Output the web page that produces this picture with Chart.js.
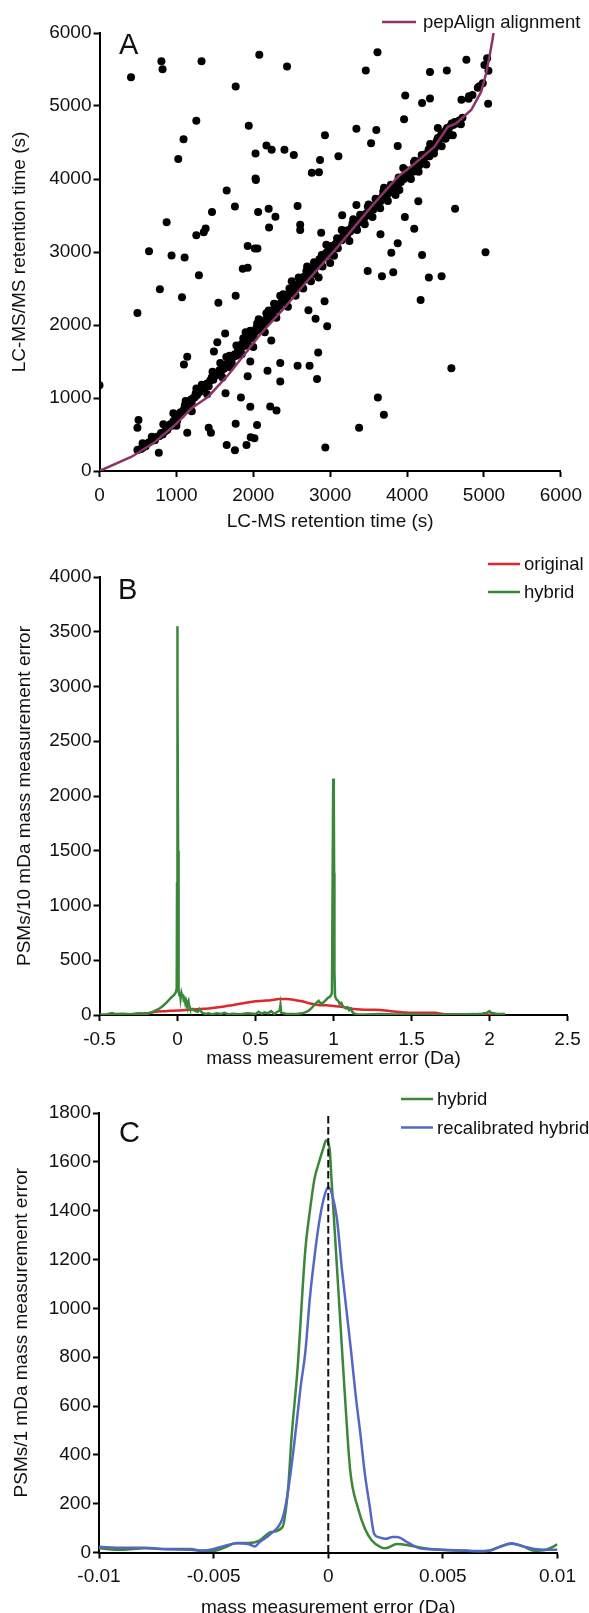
<!DOCTYPE html>
<html>
<head>
<meta charset="utf-8">
<script src="https://cdn.jsdelivr.net/npm/chart.js@4.4.1/dist/chart.umd.min.js"></script>
<style>
  html, body { margin: 0; padding: 0; background: #fff; overflow: hidden; }
  body { width: 589px; height: 1613px; position: relative; }
  canvas { position: absolute; left: 0; }
  #chartA { top: 0; }
  #chartB { top: 538px; }
  #chartC { top: 1076px; }
</style>
</head>
<body>
<canvas id="chartA" width="589" height="538"></canvas>
<canvas id="chartB" width="589" height="538"></canvas>
<canvas id="chartC" width="589" height="550"></canvas>
<script>
// ---- Panel A: retention time scatter + pepAlign alignment ----
const outlierX = [410, 805, 820, 1327, 2078, 2439, 1771, 1259, 1941, 1093, 1024, 2029, 2171, 2239, 2405, 2527, 2029, 2034, 1654, 1761,
  1463, 2063, 2200, 2288, 2205, 873, 1380, 1356, 1259, 644, 937, 1107, 1927, 2020, 2054, 1863, 1927, 1293, 785, 1073,
  1771, 1546, 493, 2576, 2610, 2610, 2761, 2854, 2868, 2932, 3107, 3341, 3463, 3615, 3532, 3600, 3961, 3976, 4195, 4298,
  4298, 4517, 4771, 4707, 4805, 5054, 3878, 3341, 3156, 2883, 3654, 3795, 3878, 3971, 4093, 4146, 4195, 4624, 5020, 3488,
  3673, 3820, 4283, 4449, 4176, 4576, 3620, 3698, 3376, 2937, 2961, 2927, 2810, 2717, 2844, 2732, 2829, 2576, 2351, 2351,
  2185, 2234, 2302, 2220, 1961, 1927, 1839, 1961, 1639, 1771, 2049, 1966, 2015, 1912, 1654, 1761, 1420, 1449, 1141, 1098,
  1141, 1488, 1634, 1532, 507, 493, 771, 0, 493, 561];
const outlierY = [5395, 5613, 5504, 5613, 5703, 5542, 5267, 4799, 4728, 4543, 4273, 4349, 4458, 4401, 4401, 4330, 4008, 3985, 3843, 3625,
  3549, 3549, 3592, 3483, 3337, 3407, 3322, 3270, 3228, 3010, 2953, 2925, 3081, 3048, 3048, 2769, 2783, 2683, 2489, 2380,
  2399, 2305, 2163, 3630, 3374, 3303, 4084, 4094, 4259, 4600, 4311, 4690, 5485, 5736, 4491, 4671, 4818, 5144, 5040, 5102,
  5466, 5485, 5632, 5087, 5135, 5031, 4453, 3644, 3502, 3265, 3242, 2991, 3119, 3478, 3318, 3696, 2958, 3592, 2996, 2740,
  2669, 2721, 2650, 2669, 2343, 1406, 1008, 771, 592, 322, 1983, 2324, 2087, 2201, 1623, 1443, 1259, 1443, 1481, 1226,
  1372, 1789, 828, 885, 1500, 1297, 1008, 880, 1065, 648, 629, 464, 450, 355, 355, 284, 592, 525, 525, 1458,
  1566, 1637, 1884, 1765, 700, 592, 251, 1174, 289, 317];

const bandX = [500, 540, 600, 640, 660, 700, 720, 750, 780, 800, 820, 850, 870, 880, 900, 920, 940, 960, 980, 1000,
  1010, 1030, 1050, 1060, 1080, 1100, 1110, 1130, 1150, 1170, 1190, 1200, 1220, 1240, 1250, 1270, 1290, 1300, 1320, 1340,
  1360, 1380, 1400, 1420, 1440, 1460, 1480, 1500, 1520, 1540, 1560, 1580, 1600, 1620, 1640, 1660, 1680, 1700, 1720, 1740,
  1760, 1780, 1800, 1810, 1830, 1850, 1860, 1880, 1900, 1910, 1930, 1950, 1970, 1990, 2000, 2020, 2040, 2060, 2080, 2100,
  2120, 2140, 2160, 2180, 2200, 2220, 2240, 2260, 2280, 2300, 2320, 2340, 2360, 2380, 2400, 2420, 2440, 2460, 2480, 2500,
  2520, 2540, 2560, 2580, 2600, 2620, 2640, 2660, 2680, 2700, 2720, 2740, 2760, 2780, 2800, 2820, 2840, 2860, 2880, 2900,
  2920, 2940, 2960, 2980, 3000, 3020, 3040, 3060, 3080, 3100, 3130, 3150, 3170, 3200, 3220, 3240, 3260, 3280, 3300, 3320,
  3340, 3360, 3380, 3400, 3420, 3440, 3460, 3480, 3500, 3520, 3540, 3560, 3580, 3600, 3620, 3640, 3660, 3680, 3700, 3720,
  3740, 3760, 3780, 3800, 3820, 3840, 3860, 3880, 3900, 3920, 3940, 3960, 3980, 4000, 4020, 4050, 4080, 4100, 4120, 4140,
  4160, 4180, 4200, 4220, 4240, 4260, 4280, 4300, 4320, 4340, 4360, 4380, 4400, 4420, 4440, 4460, 4480, 4500, 4520, 4540,
  4560, 4580, 4600, 4620, 4640, 4680, 4720,
  1000, 1200, 1400, 1600, 1650, 1700, 1850, 1900, 2000, 2050, 2150, 2200, 2300, 2350, 2450, 2500, 2550, 2650, 2700, 2750,
  2800, 2850, 2900, 2950, 3000, 3050, 3100, 3150, 3250, 3300, 3350, 3450, 3500, 3550, 3650, 3700, 3750, 3850, 3900, 3950,
  4050, 4100, 4150, 4250, 4300, 4350, 4450, 4500, 4550, 4400, 4700, 4595, 4292, 4162,
  4920, 4940, 4984, 5006, 5041, 5058, 4800, 4850,
  560, 680, 830, 960, 1120, 1260, 1330, 1470, 1570, 1690, 1780, 1870, 1960, 2070, 2170, 2270, 2390, 2470, 2590, 2690,
  2790, 2890, 2990, 3090, 3190, 3290, 3390, 3490, 3590, 3690, 3790, 3890, 3990, 4090, 4190, 4290, 4390, 4490];
const bandY = [290, 300, 340, 390, 400, 430, 420, 470, 480, 520, 500, 540, 580, 560, 600, 640, 620, 680, 700, 720,
  690, 760, 800, 770, 820, 850, 900, 880, 940, 920, 980, 950, 1000, 1010, 1060, 1040, 1100, 1080, 1120, 1150,
  1130, 1180, 1200, 1160, 1240, 1280, 1250, 1300, 1340, 1320, 1380, 1360, 1420, 1400, 1460, 1440, 1500, 1520, 1480, 1560,
  1600, 1580, 1640, 1700, 1660, 1740, 1700, 1760, 1720, 1800, 1780, 1840, 1820, 1880, 1850, 1900, 1960, 1930, 1980, 2000,
  1960, 2060, 2040, 2100, 2080, 2150, 2120, 2200, 2240, 2210, 2280, 2260, 2300, 2340, 2320, 2380, 2360, 2420, 2460, 2440,
  2500, 2480, 2540, 2520, 2580, 2560, 2620, 2660, 2640, 2700, 2680, 2740, 2720, 2780, 2820, 2800, 2860, 2900, 2880, 2940,
  2920, 2980, 3000, 2960, 3040, 3080, 3060, 3100, 3120, 3150, 3180, 3160, 3220, 3250, 3230, 3300, 3280, 3340, 3320, 3380,
  3360, 3420, 3440, 3410, 3480, 3460, 3520, 3500, 3560, 3540, 3600, 3580, 3640, 3620, 3680, 3720, 3700, 3760, 3740, 3800,
  3780, 3840, 3820, 3880, 3860, 3900, 3940, 3920, 3980, 3960, 4020, 4000, 4060, 4080, 4040, 4120, 4100, 4160, 4200, 4180,
  4240, 4220, 4300, 4280, 4340, 4320, 4400, 4380, 4440, 4460, 4420, 4500, 4560, 4540, 4600, 4620, 4580, 4660, 4700, 4680,
  4720, 4760, 4740, 4780, 4760, 4800, 4840,
  620, 820, 1050, 1280, 1560, 1420, 1600, 1900, 1700, 2020, 1900, 2200, 2100, 2400, 2250, 2600, 2400, 2500, 2800, 2600,
  2700, 2650, 2800, 3100, 2850, 2950, 3050, 3300, 3150, 3450, 3300, 3380, 3650, 3480, 3600, 3880, 3700, 3780, 3850, 4150,
  4000, 4250, 4100, 4200, 4480, 4350, 4450, 4550, 4600, 4700, 4750, 4600, 4310, 4190,
  5250, 5270, 5311, 5562, 5653, 5484, 5100, 5150,
  380, 470, 640, 790, 960, 1130, 1180, 1360, 1480, 1580, 1720, 1820, 1920, 2080, 2160, 2290, 2420, 2500, 2650, 2740,
  2860, 2960, 3080, 3190, 3290, 3390, 3510, 3620, 3730, 3830, 3920, 4020, 4120, 4230, 4330, 4410, 4530, 4640];

const alignX = [0, 418, 699, 981, 1197, 1413, 1673, 1932, 2084, 2400, 2712, 3101, 3535, 3881, 4097, 4357, 4530, 4639, 4834, 4964, 5029, 5071, 5114, 5125];
const alignY = [0, 196, 379, 630, 859, 1018, 1315, 1658, 1863, 2230, 2616, 3073, 3621, 4032, 4210, 4442, 4716, 4763, 4945, 5196, 5448, 5675, 5927, 6000];

const ticksA = [0, 1000, 2000, 3000, 4000, 5000, 6000];
const tickLabelsA = ['0', '1000', '2000', '3000', '4000', '5000', '6000'];

// ---- Panel B: mass error histogram, 10 mDa bins ----
const hybridBX = [-0.50, -0.45, -0.42, -0.40, -0.35, -0.30, -0.25, -0.20, -0.17, -0.15, -0.12, -0.10, -0.08, -0.06, -0.04, -0.02, -0.01, -0.005,
  -0.003, -0.002, -0.001, 0.000, 0.002, 0.004, 0.006, 0.008, 0.012, 0.016, 0.020, 0.025, 0.030, 0.035, 0.040, 0.045, 0.050, 0.055,
  0.060, 0.070, 0.075, 0.080, 0.090, 0.100, 0.110, 0.130, 0.140, 0.150, 0.160, 0.180, 0.200, 0.220, 0.250, 0.280, 0.300, 0.330,
  0.350, 0.400, 0.450, 0.500, 0.520, 0.540, 0.560, 0.580, 0.600, 0.620, 0.640, 0.655, 0.660, 0.665, 0.700, 0.750, 0.800, 0.830,
  0.850, 0.870, 0.890, 0.905, 0.920, 0.940, 0.960, 0.980, 0.990, 0.995, 0.998, 1.002, 1.004, 1.006, 1.010, 1.020, 1.030, 1.040,
  1.050, 1.060, 1.080, 1.090, 1.100, 1.110, 1.120, 1.130, 1.150, 1.200, 1.300, 1.400, 1.500, 1.600, 1.700, 1.800, 1.900, 1.950,
  1.980, 2.000, 2.010, 2.050, 2.100];
const hybridBY = [5, 8, 18, 10, 12, 8, 15, 10, 20, 35, 55, 75, 100, 130, 160, 185, 210, 250,
  1200, 2400, 3000, 3550, 3000, 1500, 600, 220, 180, 210, 150, 200, 170, 190, 140, 150, 110, 130,
  100, 130, 80, 60, 50, 55, 40, 30, 55, 35, 20, 10, 15, 5, 15, 10, 20, 5,
  12, 8, 15, 10, 30, 12, 25, 15, 35, 10, 30, 40, 90, 20, 10, 8, 15, 30,
  50, 80, 110, 130, 100, 120, 150, 170, 200, 1400, 2160, 2000, 1300, 400, 170, 140, 130, 100,
  110, 80, 60, 70, 45, 60, 30, 15, 8, 5, 8, 5, 6, 4, 5, 4, 8, 12,
  18, 35, 20, 10, 8];

const originalBX = [-0.45, -0.40, -0.30, -0.20, -0.15, -0.10, -0.05, 0.00, 0.05, 0.10, 0.15, 0.20, 0.25, 0.30, 0.35, 0.40, 0.45, 0.50,
  0.55, 0.60, 0.65, 0.70, 0.75, 0.80, 0.85, 0.90, 0.95, 1.00, 1.05, 1.10, 1.15, 1.20, 1.25, 1.30, 1.35, 1.40, 1.45, 1.50,
  1.55, 1.60, 1.65, 1.70, 1.75, 1.80, 1.90, 2.00, 2.10];
const originalBY = [0, 2, 5, 15, 28, 35, 38, 40, 45, 50, 55, 60, 68, 78, 90, 102, 115, 125,
  130, 135, 145, 145, 138, 125, 105, 92, 88, 82, 75, 62, 52, 48, 47, 46, 38, 30, 24, 20,
  20, 20, 20, 10, 6, 5, 4, 3, 2];

const ticksBX = [-0.5, 0, 0.5, 1, 1.5, 2, 2.5];
const tickLabelsBX = ['-0.5', '0', '0.5', '1', '1.5', '2', '2.5'];
const ticksBY = [0, 500, 1000, 1500, 2000, 2500, 3000, 3500, 4000];
const tickLabelsBY = ['0', '500', '1000', '1500', '2000', '2500', '3000', '3500', '4000'];

// ---- Panel C: mass error histogram, 1 mDa bins ----
const hybridCX = [-0.0100, -0.0090, -0.0080, -0.0070, -0.0060, -0.0055, -0.0050, -0.0045, -0.0040, -0.0035, -0.0030, -0.0025,
  -0.0020, -0.00175, -0.0016, -0.00134, -0.0010, -0.0008, -0.0006, -0.00044, -0.0002, -0.0001, 0.00005, 0.00015, 0.00047,
  0.0007, 0.00096, 0.0013, 0.0016, 0.0019, 0.0023, 0.0025, 0.0030, 0.0036, 0.0042, 0.0050, 0.0060, 0.0065, 0.0070, 0.0075,
  0.0080, 0.0085, 0.0090, 0.0095, 0.0100];
const hybridCY = [17, 11, 17, 14, 14, 7, 7, 21, 39, 39, 49, 84,
  104, 264, 473, 752, 1239, 1400, 1531, 1587, 1660, 1687, 1660, 1517, 1030,
  682, 334, 181, 97, 49, 21, 17, 35, 28, 17, 10, 7, 3, 7, 24,
  36, 25, 7, 11, 33];

const recalCX = [-0.0100, -0.0090, -0.0080, -0.0070, -0.0060, -0.0055, -0.0050, -0.0045, -0.0040, -0.0035, -0.0032, -0.0030,
  -0.0025, -0.0020, -0.0018, -0.0015, -0.0012, -0.0010, -0.0008, -0.0006, -0.0004, -0.0002, 0.0000, 0.0002, 0.0004, 0.0006,
  0.0008, 0.0010, 0.0012, 0.0014, 0.0016, 0.0018, 0.0020, 0.0022, 0.0025, 0.0028, 0.0030, 0.0035, 0.0040, 0.0045, 0.0050,
  0.0060, 0.0065, 0.0070, 0.0075, 0.0080, 0.0085, 0.0090, 0.0095, 0.0100];
const recalCY = [24, 19, 19, 13, 11, 7, 14, 28, 38, 35, 25, 42,
  77, 139, 223, 432, 682, 821, 1044, 1211, 1350, 1448, 1497, 1455, 1350, 1156,
  988, 821, 640, 487, 320, 195, 77, 63, 56, 63, 63, 39, 17, 13, 11,
  8, 6, 7, 24, 38, 25, 14, 11, 11];

const zeroLineX = [0, 0];
const zeroLineY = [0, 1800];

const ticksCX = [-0.01, -0.005, 0, 0.005, 0.01];
const tickLabelsCX = ['-0.01', '-0.005', '0', '0.005', '0.01'];
const ticksCY = [0, 200, 400, 600, 800, 1000, 1200, 1400, 1600, 1800];
const tickLabelsCY = ['0', '200', '400', '600', '800', '1000', '1200', '1400', '1600', '1800'];

// ---- shared styling ----
const FONT = '"Liberation Sans", Arial, Helvetica, sans-serif';
const TEXT = '#111';
const TICK_SIZE = 19;
const TITLE_SIZE = 19;
Chart.defaults.font.family = FONT;
Chart.defaults.color = TEXT;

function toPoints(xs, ys) {
  return xs.map((x, i) => ({ x: x, y: ys[i] }));
}

// Panel letter and legend drawn on the canvas
const panelDecor = {
  id: 'panelDecor',
  afterDraw(chart, args, opts) {
    const ctx = chart.ctx;
    ctx.save();
    ctx.fillStyle = TEXT;
    ctx.font = '29px ' + FONT;
    ctx.textBaseline = 'alphabetic';
    ctx.textAlign = 'left';
    ctx.fillText(opts.letter, opts.letterX, opts.letterY);
    ctx.font = '18.5px ' + FONT;
    ctx.textBaseline = 'middle';
    opts.legendOrder.forEach((dsIndex, i) => {
      const ds = chart.data.datasets[dsIndex];
      const y = opts.legendY + i * opts.legendDy;
      ctx.strokeStyle = ds.borderColor;
      ctx.lineWidth = 2.5;
      ctx.beginPath();
      ctx.moveTo(opts.lineX0, y);
      ctx.lineTo(opts.lineX1, y);
      ctx.stroke();
      ctx.fillText(ds.label, opts.textX, y + 1);
    });
    ctx.restore();
  }
};

function axis(opts) {
  return {
    type: 'linear',
    min: opts.min,
    max: opts.max,
    afterBuildTicks: scale => { scale.ticks = opts.ticks.map(v => ({ value: v })); },
    afterFit: opts.afterFit,
    grid: { display: true, drawOnChartArea: false, drawTicks: true, tickLength: 6, tickWidth: 2, tickColor: '#000' },
    border: { display: true, color: '#000', width: 2 },
    ticks: {
      autoSkip: false,
      maxRotation: 0,
      padding: opts.tickPad,
      color: TEXT,
      font: { size: TICK_SIZE },
      callback: (value, index) => opts.labels[index]
    },
    title: {
      display: true,
      text: opts.title,
      color: TEXT,
      font: { size: TITLE_SIZE },
      padding: opts.titlePad
    }
  };
}

function baseOptions(box, canvasH, scales, decor) {
  return {
    responsive: false,
    animation: false,
    events: [],
    layout: { padding: { left: 0, top: box.top, right: 589 - box.right, bottom: 0 } },
    scales: {
      x: axis(Object.assign({ afterFit: s => { s.height = canvasH - box.bottom; } }, scales.x)),
      y: axis(Object.assign({ afterFit: s => { s.width = box.left; } }, scales.y))
    },
    plugins: {
      legend: { display: false },
      tooltip: { enabled: false },
      panelDecor: decor
    }
  };
}

// ---- Chart A ----
new Chart(document.getElementById('chartA'), {
  type: 'scatter',
  data: {
    datasets: [
      {
        label: 'pepAlign alignment',
        data: toPoints(alignX, alignY),
        showLine: true,
        borderColor: '#8c3468',
        borderWidth: 2.5,
        pointRadius: 0,
        tension: 0
      },
      {
        label: 'PSMs',
        data: toPoints(outlierX.concat(bandX), outlierY.concat(bandY)),
        pointRadius: 4,
        pointBackgroundColor: '#000',
        pointBorderWidth: 0,
        borderColor: '#000'
      }
    ]
  },
  options: baseOptions({ left: 99.5, right: 561.5, top: 33, bottom: 471 }, 538, {
    x: { min: 0, max: 6000, ticks: ticksA, labels: tickLabelsA, tickPad: 7, title: 'LC-MS retention time (s)', titlePad: { top: 0, bottom: 5 } },
    y: { min: 0, max: 6000, ticks: ticksA, labels: tickLabelsA, tickPad: 2, title: 'LC-MS/MS retention time (s)', titlePad: { top: 8, bottom: 0 } }
  }, { letter: 'A', letterX: 119, letterY: 54, legendOrder: [0], legendY: 22, legendDy: 28, lineX0: 382, lineX1: 416, textX: 423 }),
  plugins: [panelDecor]
});

// ---- Chart B ----
new Chart(document.getElementById('chartB'), {
  type: 'scatter',
  data: {
    datasets: [
      {
        label: 'hybrid',
        data: toPoints(hybridBX, hybridBY),
        showLine: true,
        borderColor: '#3a873a',
        borderWidth: 2.5,
        pointRadius: 0,
        tension: 0
      },
      {
        label: 'original',
        data: toPoints(originalBX, originalBY),
        showLine: true,
        borderColor: '#e0262a',
        borderWidth: 2.5,
        pointRadius: 0,
        cubicInterpolationMode: 'monotone'
      }
    ]
  },
  options: baseOptions({ left: 99.5, right: 567.5, top: 39, bottom: 477 }, 538, {
    x: { min: -0.5, max: 2.5, ticks: ticksBX, labels: tickLabelsBX, tickPad: 7, title: 'mass measurement error (Da)', titlePad: { top: 0, bottom: 6 } },
    y: { min: 0, max: 4000, ticks: ticksBY, labels: tickLabelsBY, tickPad: 2, title: 'PSMs/10 mDa mass measurement error', titlePad: { top: 13.5, bottom: 0 } }
  }, { letter: 'B', letterX: 118, letterY: 61, legendOrder: [1, 0], legendY: 26, legendDy: 28, lineX0: 488, lineX1: 520, textX: 524 }),
  plugins: [panelDecor]
});

// ---- Chart C ----
new Chart(document.getElementById('chartC'), {
  type: 'scatter',
  data: {
    datasets: [
      {
        label: 'zero',
        data: toPoints(zeroLineX, zeroLineY),
        showLine: true,
        borderColor: '#111',
        borderWidth: 2,
        borderDash: [7.5, 3.5],
        pointRadius: 0
      },
      {
        label: 'recalibrated hybrid',
        data: toPoints(recalCX, recalCY),
        showLine: true,
        borderColor: '#5567c4',
        borderWidth: 2.5,
        pointRadius: 0,
        cubicInterpolationMode: 'monotone'
      },
      {
        label: 'hybrid',
        data: toPoints(hybridCX, hybridCY),
        showLine: true,
        borderColor: '#3a873a',
        borderWidth: 2.5,
        pointRadius: 0,
        cubicInterpolationMode: 'monotone'
      }
    ]
  },
  options: baseOptions({ left: 99, right: 557.5, top: 37, bottom: 476.5 }, 550, {
    x: { min: -0.01, max: 0.01, ticks: ticksCX, labels: tickLabelsCX, tickPad: 7, title: 'mass measurement error (Da)', titlePad: { top: 0, bottom: 7 } },
    y: { min: 0, max: 1800, ticks: ticksCY, labels: tickLabelsCY, tickPad: 2, title: 'PSMs/1 mDa mass measurement error', titlePad: { top: 10, bottom: 0 } }
  }, { letter: 'C', letterX: 119, letterY: 66, legendOrder: [2, 1], legendY: 23, legendDy: 28.5, lineX0: 401, lineX1: 433, textX: 437 }),
  plugins: [panelDecor]
});
</script>
</body>
</html>
